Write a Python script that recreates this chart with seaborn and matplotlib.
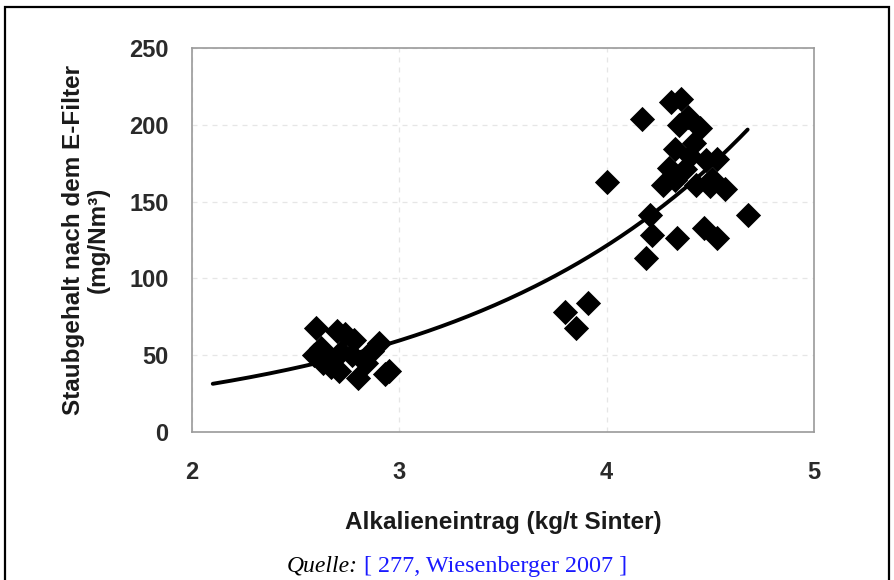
import numpy as np
import pandas as pd
import matplotlib
matplotlib.use("Agg")
import matplotlib.pyplot as plt
import seaborn as sns
from matplotlib.patches import Rectangle

# Alkali input (kg/t sinter) vs. dust content after the electrostatic precipitator
alkali = [
    2.60, 2.59, 2.63, 2.67, 2.70, 2.74, 2.78, 2.72, 2.77, 2.71, 2.80, 2.87,
    2.90, 2.95, 2.93, 2.65, 2.84, 2.62,
    3.80, 3.85, 3.91,
    4.00, 4.17, 4.21, 4.22, 4.19, 4.34, 4.47, 4.53, 4.68,
    4.31, 4.36, 4.39, 4.45, 4.33, 4.40, 4.48, 4.53, 4.27, 4.33, 4.43,
    4.57, 4.38, 4.51, 4.35, 4.42, 4.30, 4.50,
]
dust = [
    68, 50, 45, 42, 66, 64, 60, 52, 50, 40, 35, 53,
    58, 40, 38, 48, 45, 55,
    78, 68, 84,
    163, 204, 141, 128, 113, 126, 133, 126, 141,
    215, 217, 205, 198, 184, 180, 177, 178, 161, 164, 161,
    158, 171, 165, 200, 188, 172, 160,
]

x_ticks = [2, 3, 4, 5]
y_ticks = [0, 50, 100, 150, 200, 250]

df = pd.DataFrame({"alkali": alkali, "dust": dust})

# exponential trend line fitted to the measurements
b, ln_a = np.polyfit(df["alkali"], np.log(df["dust"]), 1)
trend_x = np.linspace(2.1, 4.68, 200)
trend = pd.DataFrame({"alkali": trend_x, "dust": np.exp(ln_a + b * trend_x)})

sns.set_style("white")
plt.rcParams["font.family"] = ["Liberation Sans", "DejaVu Sans"]

fig = plt.figure(figsize=(8.94, 5.80), dpi=100)
ax = fig.add_axes([0.2148, 0.2552, 0.6957, 0.662])

sns.lineplot(data=trend, x="alkali", y="dust", ax=ax, color="black",
             linewidth=2.8, zorder=3)
sns.scatterplot(data=df, x="alkali", y="dust", ax=ax, marker="D", s=165,
                color="black", edgecolor="black", linewidth=0, zorder=4)

ax.set_xlim(2, 5)
ax.set_ylim(0, 250)
ax.set_xticks(x_ticks)
ax.set_yticks(y_ticks)
ax.tick_params(axis="y", length=0, labelsize=17, pad=17, colors="#2a2a2a")
ax.tick_params(axis="x", length=0, labelsize=17, pad=21, colors="#2a2a2a")
for lab in ax.get_xticklabels() + ax.get_yticklabels():
    lab.set_fontweight("bold")
ax.grid(True, color="#e6e6e6", linestyle=(0, (4, 4)), linewidth=0.9)
for sp in ax.spines.values():
    sp.set_color("#9a9a9a")
    sp.set_linewidth(1.2)

ax.set_xlabel("Alkalieneintrag (kg/t Sinter)", fontsize=17.5,
              fontweight="bold", color="#1a1a1a", labelpad=19)
ax.set_ylabel("Staubgehalt nach dem E-Filter\n(mg/Nm³)",
              fontsize=17.5, fontweight="bold", color="#1a1a1a",
              labelpad=14, linespacing=1.1)

# outer frame and source line
fig.patches.append(Rectangle((0.006, -0.01), 0.988, 0.998,
                             transform=fig.transFigure, fill=False,
                             edgecolor="black", linewidth=1.6))
fig.text(0.321, 0.024, "Quelle:", fontsize=17, fontstyle="italic",
         family="Liberation Serif", color="black", ha="left", va="center")
fig.text(0.407, 0.024, "[ 277, Wiesenberger 2007 ]", fontsize=17.4,
         family="Liberation Serif", color="#1a1aff", ha="left", va="center")

fig.savefig("out.png", dpi=100)
